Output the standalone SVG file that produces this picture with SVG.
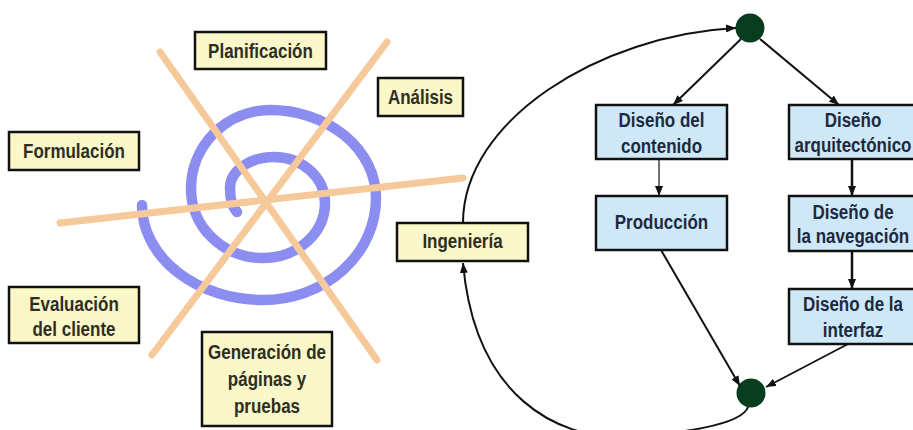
<svg xmlns="http://www.w3.org/2000/svg" width="913" height="430" viewBox="0 0 913 430">
<style>
.y{fill:#faf8c9;stroke:#111;stroke-width:2.5}
.b{fill:#cfe8f7;stroke:#111;stroke-width:2.5}
.ty,.tb{font-family:"Liberation Sans",Arial,sans-serif;font-weight:bold;font-size:17px;text-anchor:middle;transform-box:fill-box;transform-origin:center;transform:scale(1,1.15)}
.ty{fill:#2e2e22}
.tb{fill:#1c2a40}
.or{stroke:#f6c99b;stroke-width:7;stroke-linecap:round;fill:none}
.c{stroke:#111;fill:none}
.dot{fill:#073d1e}
</style>
<defs>
<marker id="ah" markerUnits="userSpaceOnUse" markerWidth="10" markerHeight="8" refX="10" refY="4" orient="auto">
<path d="M0,0 L10,4 L0,8 z" fill="#111"/>
</marker>
</defs>
<rect width="913" height="430" fill="#fff"/>
<g id="spiral">
<path d="M237,212 C231,206 230,196 230,188 A44,31 0 0 1 274,157 A51,46 0 0 1 325,203 A62,55 0 0 1 263,258 A72,69 0 0 1 191,189 A79,79 0 0 1 270,110 A106,88 0 0 1 376,198 A113,102 0 0 1 263,300 A121,95 0 0 1 142,205" fill="none" stroke="#8c8df0" stroke-width="10.5" stroke-linecap="round"/>
<line class="or" x1="160" y1="52" x2="377" y2="360"/>
<line class="or" x1="387" y1="42" x2="152" y2="355"/>
<line class="or" x1="60" y1="223" x2="463" y2="178"/>
</g>
<g id="planificacion"><rect class="y" x="195" y="32" width="131" height="37"/><text class="ty" x="260.5" y="57">Planificación</text></g>
<g id="analisis"><rect class="y" x="378" y="78" width="85" height="38"/><text class="ty" x="420.5" y="103">Análisis</text></g>
<g id="formulacion"><rect class="y" x="9" y="132" width="130" height="38"/><text class="ty" x="74" y="157">Formulación</text></g>
<g id="evaluacion"><rect class="y" x="9" y="287" width="130" height="56"/><text class="ty" x="74" y="310">Evaluación</text><text class="ty" x="74" y="335">del cliente</text></g>
<g id="generacion"><rect class="y" x="202" y="332" width="130" height="94"/><text class="ty" x="267" y="358">Generación de</text><text class="ty" x="267" y="385">páginas y</text><text class="ty" x="267" y="412">pruebas</text></g>
<g id="ingenieria"><rect class="y" x="397" y="223" width="131" height="38"/><text class="ty" x="462.5" y="247">Ingeniería</text></g>
<g id="inicio"><circle class="dot" cx="750" cy="28" r="14.5"/></g>
<g id="fin"><circle class="dot" cx="751" cy="393" r="14.5"/></g>
<g id="contenido"><rect class="b" x="596" y="105" width="131" height="54"/><text class="tb" x="661.5" y="126">Diseño del</text><text class="tb" x="661.5" y="152">contenido</text></g>
<g id="produccion"><rect class="b" x="596" y="196" width="131" height="54"/><text class="tb" x="661.5" y="228">Producción</text></g>
<g id="arquitectonico"><rect class="b" x="789" y="105" width="130" height="54"/><text class="tb" x="853" y="126">Diseño</text><text class="tb" x="853" y="151">arquitectónico</text></g>
<g id="navegacion"><rect class="b" x="789" y="196" width="130" height="55"/><text class="tb" x="853" y="218">Diseño de</text><text class="tb" x="853" y="242">la navegación</text></g>
<g id="interfaz"><rect class="b" x="789" y="289" width="130" height="55"/><text class="tb" x="853" y="310">Diseño de la</text><text class="tb" x="853" y="336">interfaz</text></g>
<g id="connectors">
<path class="c" stroke-width="2" marker-end="url(#ah)" d="M463,223 C463,120 600,35 736,28"/>
<path class="c" stroke-width="2" marker-end="url(#ah)" d="M748,407 C742,425 680,434 620,437 C560,437 475,400 463,263"/>
<line class="c" stroke-width="2" marker-end="url(#ah)" x1="741" y1="39" x2="673" y2="105"/>
<line class="c" stroke-width="2" marker-end="url(#ah)" x1="760" y1="39" x2="839" y2="105"/>
<line class="c" stroke-width="1.2" marker-end="url(#ah)" x1="659" y1="159" x2="659" y2="196"/>
<line class="c" stroke-width="2.5" marker-end="url(#ah)" x1="852" y1="159" x2="852" y2="196"/>
<line class="c" stroke-width="2.5" marker-end="url(#ah)" x1="852" y1="251" x2="852" y2="289"/>
<line class="c" stroke-width="2" marker-end="url(#ah)" x1="661" y1="250" x2="740" y2="386"/>
<line class="c" stroke-width="1.8" marker-end="url(#ah)" x1="848" y1="344" x2="766" y2="387"/>
</g>
</svg>
